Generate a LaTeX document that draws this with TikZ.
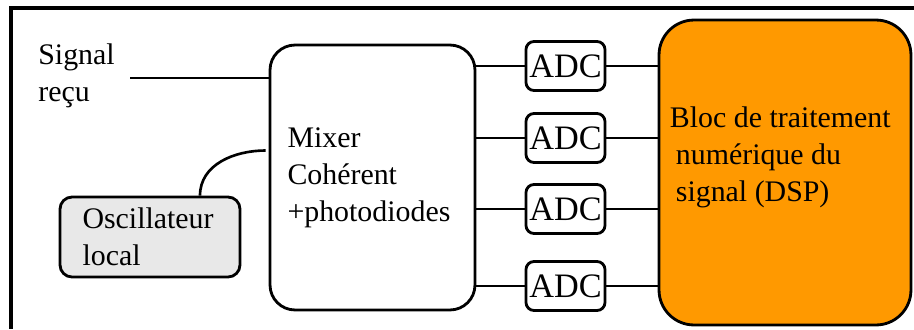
\documentclass[tikz,border=0pt]{standalone}
\usepackage{fontspec}
\setmainfont{Liberation Serif}
\usetikzlibrary{calc, positioning}

\definecolor{dsporange}{HTML}{FF9900}
\definecolor{oscgray}{HTML}{E8E8E8}

\begin{document}
\begin{tikzpicture}[
        x=0.02cm, y=-0.02cm,
        every node/.style={font=\fontsize{17}{21}\selectfont},
        bloc/.style={draw, line width=1.6pt, rounded corners=0.5cm},
        adcbox/.style={draw, line width=1.6pt, rounded corners=0.16cm,
            minimum width=1.58cm, minimum height=0.98cm, inner sep=0pt,
            font=\fontsize{19.5}{21}\selectfont},
        wire/.style={line width=1.5pt}
    ]
    
    \useasboundingbox (0,0) rectangle (914,329);
    \draw[line width=2pt] (914,8) -- (11,8) -- (11,329);
    
    \node[align=left, anchor=west, inner sep=0pt] (sig) at (38,76) {Signal\\reçu};
    \coordinate (sigin) at (130,78);
    
    \node[bloc, minimum width=4.1cm, minimum height=5.3cm,
        text width=3.4cm, inner xsep=0.35cm, align=left] (mixer) at (372.5,177.5)
        {Mixer\\Cohérent\\+photodiodes};
    
    \node[bloc, rounded corners=0.24cm, fill=oscgray, minimum width=3.6cm,
        minimum height=1.6cm, text width=2.7cm, inner xsep=0.45cm, align=left]
        (osc) at (150,237) {Oscillateur\\local};
    
    \node[bloc, rounded corners=0.7cm, fill=dsporange, minimum width=5.04cm,
        minimum height=6.1cm] (dsp) at (785,172.5) {};
    \node[align=left, anchor=west, inner sep=0pt] (dsptext) at ($(dsp.west)+(12,-15)$)
        {Bloc de traitement\\\hspace{0.2em}numérique du\\\hspace{0.2em}signal (DSP)};
    
    \node[adcbox] (adc1) at (565.5,66) {ADC};
    \node[adcbox] (adc2) at (565.5,138) {ADC};
    \node[adcbox] (adc3) at (565.5,209) {ADC};
    \node[adcbox] (adc4) at (565.5,286) {ADC};
    
    \draw[wire] (sigin) -- (sigin -| mixer.west);
    \draw[wire] ($(osc.north)+(50,0)$) to[out=90, in=180] ($(mixer.west)+(-3,-27)$);
    
    \foreach \i in {1,...,4} {
        \draw[wire] (adc\i -| mixer.east) -- (adc\i);
        \draw[wire] (adc\i) -- (adc\i -| dsp.west);
    }
    
    \end{tikzpicture}
\end{document}
